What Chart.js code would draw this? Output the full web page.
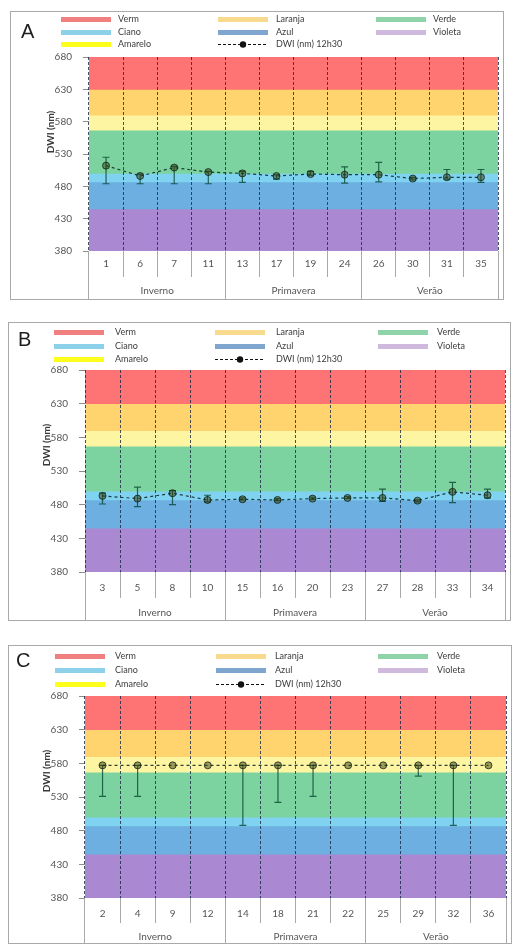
<!DOCTYPE html>
<html>
<head>
<meta charset="utf-8">
<script src="https://cdn.jsdelivr.net/npm/chart.js@4.4.1/dist/chart.umd.min.js"></script>
<style>
  html, body { margin: 0; padding: 0; background: #fff; width: 514px; height: 945px; overflow: hidden; }
  .panel { position: absolute; outline: 1px solid #a9a9a9; background: #fff; }
  .panel canvas { position: absolute; left: 0; top: 0; }
  .tag { position: absolute; font: 20px 'Liberation Sans', Arial, sans-serif; color: #1e1e1e; line-height: 1; }
  .sw { position: absolute; width: 50px; height: 5px; }
  .swl { position: absolute; width: 52px; height: 9px; }
  .lt { position: absolute; font: 9px Lato, 'Liberation Sans', sans-serif; color: #3c3c3c; line-height: 9px; white-space: nowrap; }
</style>
</head>
<body>
<script>
// ---- data -------------------------------------------------------------
const seasons = ['Inverno', 'Primavera', 'Verão'];

// colour bands of the visible spectrum (nm)
const bandNames = ['Verm', 'Laranja', 'Amarelo', 'Verde', 'Ciano', 'Azul', 'Violeta'];
const bandLow   = [630, 590, 567, 500, 487, 445, 380];
const bandHigh  = [680, 630, 590, 567, 500, 487, 445];

const dwiLabel = 'DWI (nm) 12h30';
const yMin = 380, yMax = 680, yStep = 50;

// A
const catsA = ['1', '6', '7', '11', '13', '17', '19', '24', '26', '30', '31', '35'];
const dwiA  = [512, 496, 509, 502, 500, 496, 499, 498, 498, 492, 494, 494];
const lowA  = [484, 484, 484, 484, 486, 491, 497, 485, 487, 490, 491, 486];
const highA = [525, 499, 511, 503, 503, 498, 503, 510, 517, 494, 506, 506];

// B
const catsB = ['3', '5', '8', '10', '15', '16', '20', '23', '27', '28', '33', '34'];
const dwiB  = [493, 489, 497, 487, 488, 487, 489, 490, 490, 486, 499, 494];
const lowB  = [481, 477, 480, 484, 487, 486, 488, 489, 485, 484, 483, 490];
const highB = [497, 506, 501, 494, 490, 489, 491, 492, 503, 487, 513, 503];

// C
const catsC = ['2', '4', '9', '12', '14', '18', '21', '22', '25', '29', '32', '36'];
const dwiC  = [577, 577, 577, 577, 577, 577, 577, 577, 577, 577, 577, 577];
const lowC  = [531, 531, 577, 577, 488, 522, 531, 577, 577, 561, 488, 577];
const highC = [577, 577, 577, 577, 577, 577, 577, 577, 577, 577, 577, 577];

// ---- styles -----------------------------------------------------------
const bandFill = {
  Verm: '#fe7373', Laranja: '#ffd36e', Amarelo: '#fef5a2', Verde: '#7cd3a0',
  Ciano: '#80d2f1', Azul: '#6cafe0', Violeta: '#aa88d2'
};
const legendSwatch = {
  Verm: '#f08080', Laranja: '#f7da8e', Amarelo: '#ffff1e', Verde: '#8fd4a8',
  Ciano: '#8dd0ea', Azul: '#7fa6cf', Violeta: '#cfb9dd'
};
const legendGrid = [['Verm', 'Laranja', 'Verde'], ['Ciano', 'Azul', 'Violeta'], ['Amarelo', dwiLabel]];

const tickFont = { family: "Lato, 'Liberation Sans', sans-serif", size: 10 };
const tickColor = '#555';
const sepColor = '#a9a9a9';

const panels = [
  { tag: 'A', cats: catsA, dwi: dwiA, low: lowA, high: highA,
    box: { left: 11, top: 12, width: 492, height: 287 }, padTop: 45, padRight: 4, yWidth: 78,
    rows: [26, 22], numY: 13, seasonY: 14, tagPos: [21, 21],
    legendRows: [19, 32, 44], legendCols: [[61, 118], [218, 276], [376, 433]] },
  { tag: 'B', cats: catsB, dwi: dwiB, low: lowB, high: highB,
    box: { left: 9, top: 323, width: 501, height: 297 }, padTop: 47, padRight: 5, yWidth: 76,
    rows: [26, 22], numY: 16, seasonY: 15, tagPos: [18, 329],
    legendRows: [332, 346, 359], legendCols: [[54, 115], [215, 276], [378, 437]] },
  { tag: 'C', cats: catsC, dwi: dwiC, low: lowC, high: highC,
    box: { left: 9, top: 646, width: 502, height: 297 }, padTop: 50, padRight: 5, yWidth: 76,
    rows: [25, 20], numY: 16, seasonY: 14, tagPos: [16, 650],
    legendRows: [656, 670, 684], legendCols: [[55, 115], [216, 275], [378, 437]] }
];

// ---- plugin: min/max whiskers and rotated y title ---------------------
const extras = {
  id: 'extras',
  beforeDatasetDraw(chart, args) {
    const ds = chart.data.datasets[args.index];
    if (!ds.errLow) return;
    const xs = chart.scales.x, ys = chart.scales.y, ctx = chart.ctx;
    ctx.save();
    ctx.strokeStyle = 'rgba(0,62,40,0.75)';
    ctx.lineWidth = 1.2;
    ds.errLow.forEach((lo, i) => {
      const px = xs.getPixelForValue(i);
      const pLo = ys.getPixelForValue(lo);
      const pHi = ys.getPixelForValue(ds.errHigh[i]);
      if (Math.abs(pLo - pHi) < 0.5) return;
      ctx.beginPath();
      ctx.moveTo(px, pLo); ctx.lineTo(px, pHi);
      ctx.moveTo(px - 3.5, pLo); ctx.lineTo(px + 3.5, pLo);
      ctx.moveTo(px - 3.5, pHi); ctx.lineTo(px + 3.5, pHi);
      ctx.stroke();
    });
    ctx.restore();
  },
  afterDraw(chart) {
    const a = chart.chartArea, ctx = chart.ctx;
    ctx.save();
    ctx.translate(a.left - 38, a.top + 75);
    ctx.rotate(-Math.PI / 2);
    ctx.font = "bold 10px Lato, 'Liberation Sans', sans-serif";
    ctx.fillStyle = '#3a3a3a';
    ctx.textAlign = 'center';
    ctx.textBaseline = 'middle';
    ctx.fillText('DWI (nm)', 0, 0);
    ctx.restore();
  }
};

function buildLegend(panel, p) {
  const b = p.box;
  legendGrid.forEach((row, r) => {
    row.forEach((name, c) => {
      const cy = p.legendRows[r] - b.top;
      const [sx, tx] = p.legendCols[c];
      if (name === dwiLabel) {
        const svg = document.createElementNS('http://www.w3.org/2000/svg', 'svg');
        svg.setAttribute('class', 'swl');
        svg.setAttribute('width', '52'); svg.setAttribute('height', '9');
        svg.style.left = (sx - b.left - 1) + 'px';
        svg.style.top = (cy - 4.5) + 'px';
        svg.innerHTML = '<line x1="1" y1="4.5" x2="51" y2="4.5" stroke="#111" stroke-width="1.2" stroke-dasharray="3,2"/>' +
                        '<circle cx="26" cy="4.5" r="3.2" fill="#111"/>';
        panel.appendChild(svg);
      } else {
        const sw = document.createElement('div');
        sw.className = 'sw';
        sw.style.background = legendSwatch[name];
        sw.style.left = (sx - b.left) + 'px';
        sw.style.top = (cy - 2.5) + 'px';
        panel.appendChild(sw);
      }
      const t = document.createElement('div');
      t.className = 'lt';
      t.textContent = name;
      t.style.left = (tx - b.left) + 'px';
      t.style.top = (cy - 5) + 'px';
      panel.appendChild(t);
    });
  });
}

function buildPanel(p) {
  const b = p.box;
  const panel = document.createElement('div');
  panel.className = 'panel';
  Object.assign(panel.style, { left: b.left + 'px', top: b.top + 'px', width: b.width + 'px', height: b.height + 'px' });
  document.body.appendChild(panel);

  const canvas = document.createElement('canvas');
  canvas.width = b.width; canvas.height = b.height;
  canvas.style.width = b.width + 'px'; canvas.style.height = b.height + 'px';
  panel.appendChild(canvas);

  const tag = document.createElement('div');
  tag.className = 'tag';
  tag.textContent = p.tag;
  tag.style.left = (p.tagPos[0] - b.left) + 'px';
  tag.style.top = (p.tagPos[1] - b.top) + 'px';
  panel.appendChild(tag);

  buildLegend(panel, p);

  const n = p.cats.length;
  const bands = bandNames.map((name, k) => ({
    type: 'bar',
    label: name,
    data: p.cats.map(() => [bandLow[k], bandHigh[k]]),
    backgroundColor: bandFill[name],
    borderWidth: 0,
    barPercentage: 1,
    categoryPercentage: 1,
    grouped: false,
    order: 2
  }));

  const line = {
    type: 'line',
    label: dwiLabel,
    data: p.dwi,
    errLow: p.low,
    errHigh: p.high,
    borderColor: 'rgba(12,34,34,0.85)',
    borderWidth: 1.2,
    borderDash: [3, 3],
    tension: 0,
    pointRadius: 3.5,
    pointBackgroundColor: 'rgba(55,62,12,0.5)',
    pointBorderColor: 'rgba(10,32,22,0.75)',
    pointBorderWidth: 1,
    order: 0
  };

  const lh = tickFont.size * 1.2 / 2;

  new Chart(canvas, {
    type: 'bar',
    data: { labels: p.cats, datasets: [...bands, line] },
    options: {
      responsive: false,
      animation: false,
      devicePixelRatio: 1,
      layout: { padding: { top: p.padTop, right: p.padRight, left: 0, bottom: 0 } },
      plugins: { legend: { display: false }, tooltip: { enabled: false } },
      scales: {
        x: {
          type: 'category',
          position: 'bottom',
          weight: 0,
          offset: true,
          grid: {
            offset: true, drawOnChartArea: true, drawTicks: true, z: 1,
            color: 'rgba(22,40,68,0.8)', lineWidth: 1, borderDash: [3, 2],
            tickLength: p.rows[0], tickColor: sepColor, tickWidth: 1, tickBorderDash: []
          },
          border: { display: false, dash: [3, 2] },
          ticks: { font: tickFont, color: tickColor, padding: p.numY - p.rows[0] - lh, maxRotation: 0, autoSkip: false },
          afterFit: s => { s.height = p.rows[0]; }
        },
        season: {
          type: 'category',
          labels: seasons,
          position: 'bottom',
          weight: 1,
          offset: true,
          grid: {
            offset: true, drawOnChartArea: false, drawTicks: true,
            tickLength: p.rows[1], tickColor: sepColor, tickWidth: 1
          },
          border: { display: false },
          ticks: { font: tickFont, color: tickColor, padding: p.seasonY - p.rows[1] - lh, maxRotation: 0, autoSkip: false },
          afterFit: s => { s.height = p.rows[1]; }
        },
        y: {
          min: yMin, max: yMax,
          grid: { drawOnChartArea: false, drawTicks: true, tickLength: 6, tickColor: '#8c8c8c' },
          border: { display: false },
          ticks: { stepSize: yStep, font: tickFont, color: tickColor, padding: 11 },
          afterFit: s => { s.width = p.yWidth; }
        }
      }
    },
    plugins: [extras]
  });
}

panels.forEach(buildPanel);
</script>
</body>
</html>
